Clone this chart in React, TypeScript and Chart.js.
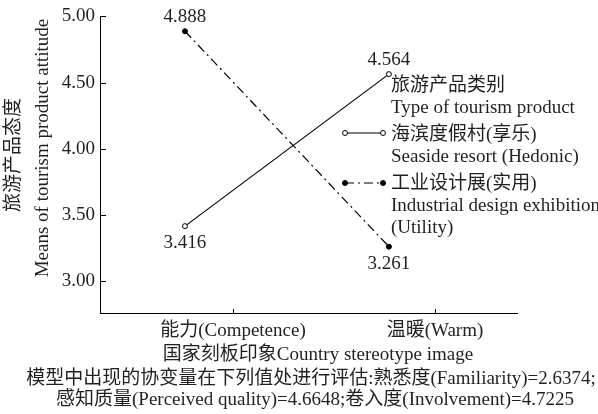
import { useEffect, useRef } from 'react';
import { Chart, registerables } from 'chart.js';

Chart.register(...registerables);

const categories = ['能力(Competence)', '温暖(Warm)'];
const hedonicValues = [3.416, 4.564];
const utilityValues = [4.888, 3.261];
const yTickValues = [3.0, 3.5, 4.0, 4.5, 5.0];
const hedonicName = ['海滨度假村(享乐)', 'Seaside resort (Hedonic)'];
const utilityName = ['工业设计展(实用)', 'Industrial design exhibition', '(Utility)'];
const legendTitle = ['旅游产品类别', 'Type of tourism product'];
const yTitle = ['旅游产品态度', 'Means of tourism product attitude'];
const xTitle = '国家刻板印象Country stereotype image';
const noteLines = [
  '模型中出现的协变量在下列值处进行评估:熟悉度(Familiarity)=2.6374;',
  '感知质量(Perceived quality)=4.6648;卷入度(Involvement)=4.7225',
];

const FAMILY = "'Liberation Serif', 'Times New Roman', 'Noto Sans CJK SC', serif";
const FS = 19;
const TEXT = '#231f20';
const DASH = [9, 4, 2, 4];

const extrasPlugin = {
  id: 'extras',
  afterDatasetsDraw(chart: any) {
    const ctx = chart.ctx;
    const area = chart.chartArea;
    const ys = chart.scales.y;
    const xs = chart.scales.x;
    ctx.save();
    ctx.strokeStyle = '#000';
    ctx.lineWidth = 1;
    // inward ticks
    ys.ticks.forEach((t: any) => {
      const py = Math.round(ys.getPixelForValue(t.value)) + 0.5;
      ctx.beginPath();
      ctx.moveTo(area.left, py);
      ctx.lineTo(area.left + 6, py);
      ctx.stroke();
    });
    xs.ticks.forEach((t: any) => {
      const px = Math.round(xs.getPixelForValue(t.value)) + 0.5;
      ctx.beginPath();
      ctx.moveTo(px, area.bottom);
      ctx.lineTo(px, area.bottom - 4);
      ctx.stroke();
    });

    // value labels
    ctx.font = `${FS}px ${FAMILY}`;
    ctx.fillStyle = TEXT;
    ctx.textAlign = 'center';
    ctx.textBaseline = 'middle';
    const all = [hedonicValues, utilityValues];
    chart.data.datasets.forEach((ds: any, di: number) => {
      const meta = chart.getDatasetMeta(di);
      meta.data.forEach((pt: any, i: number) => {
        const v = all[di][i];
        const other = all[1 - di][i];
        const above = v > other;
        ctx.fillText(v.toFixed(3), pt.x, above ? pt.y - 14 : pt.y + 17);
      });
    });

    // legend
    const lx = 391;
    ctx.textAlign = 'left';
    ctx.fillText(legendTitle[0], lx, 86);
    ctx.fillText(legendTitle[1], lx, 108);
    hedonicName.forEach((s, i) => ctx.fillText(s, lx, 135 + i * 22));
    utilityName.forEach((s, i) => ctx.fillText(s, lx, 184 + i * 22));
    const drawSample = (y: number, dashed: boolean, filled: boolean) => {
      ctx.save();
      ctx.strokeStyle = '#000';
      ctx.lineWidth = 1.2;
      ctx.setLineDash(dashed ? DASH : []);
      ctx.beginPath();
      ctx.moveTo(345, y);
      ctx.lineTo(383, y);
      ctx.stroke();
      ctx.setLineDash([]);
      [345, 383].forEach((cx) => {
        ctx.beginPath();
        ctx.arc(cx, y, 2.5, 0, Math.PI * 2);
        ctx.fillStyle = filled ? '#000' : '#fff';
        ctx.fill();
        ctx.lineWidth = 1;
        ctx.stroke();
      });
      ctx.restore();
    };
    drawSample(133, false, false);
    drawSample(183, true, true);

    // y title
    ctx.fillStyle = TEXT;
    ctx.textAlign = 'center';
    ctx.save();
    ctx.translate(14, 155);
    ctx.rotate(-Math.PI / 2);
    ctx.fillText(yTitle[0], 0, 0);
    ctx.restore();
    ctx.save();
    ctx.translate(43, 148);
    ctx.rotate(-Math.PI / 2);
    ctx.fillText(yTitle[1], 0, 0);
    ctx.restore();

    // bottom titles
    ctx.fillText(xTitle, 318, 355);
    ctx.fillText(noteLines[0], 311, 379);
    ctx.fillText(noteLines[1], 315, 400);
    ctx.restore();
  },
};

export default function App() {
  const ref = useRef<HTMLCanvasElement>(null);
  useEffect(() => {
    document.body.style.margin = '0';
    const toPts = (vals: number[]) => vals.map((v, i) => ({ x: i, y: v }));
    const chart = new Chart(ref.current!, {
      type: 'line',
      data: {
        datasets: [
          {
            label: hedonicName.join(' '),
            data: toPts(hedonicValues),
            xAxisID: 'xd',
            yAxisID: 'y',
            borderColor: '#000',
            borderWidth: 1.2,
            pointRadius: 2.5,
            pointBorderWidth: 1,
            pointBackgroundColor: '#fff',
            pointBorderColor: '#000',
            clip: false as any,
          },
          {
            label: utilityName.join(' '),
            data: toPts(utilityValues),
            xAxisID: 'xd',
            yAxisID: 'y',
            borderColor: '#000',
            borderWidth: 1.2,
            borderDash: DASH,
            pointRadius: 2.5,
            pointBorderWidth: 1,
            pointBackgroundColor: '#000',
            pointBorderColor: '#000',
            clip: false as any,
          },
        ],
      },
      options: {
        animation: false,
        responsive: false,
        layout: { padding: { left: 0, right: 81, top: 14, bottom: 0 } },
        plugins: { legend: { display: false }, tooltip: { enabled: false } },
        scales: {
          x: {
            type: 'linear',
            position: 'bottom',
            min: -0.658,
            max: 1.406,
            afterBuildTicks: (s: any) => {
              s.ticks = categories.map((_, i) => ({ value: i }));
            },
            afterFit: (s: any) => {
              s.height = 101;
            },
            ticks: {
              callback: (v: any) => categories[Number(v)] ?? '',
              font: { family: FAMILY, size: FS },
              color: TEXT,
              padding: 7,
              maxRotation: 0,
              autoSkip: false,
            },
            grid: { drawOnChartArea: false, drawTicks: false },
            border: { display: true, color: '#000', width: 1 },
          },
          xd: {
            type: 'linear',
            display: false,
            min: -0.4166,
            max: 1.628,
          },
          y: {
            type: 'linear',
            position: 'left',
            min: 2.76,
            max: 5.0,
            afterBuildTicks: (s: any) => {
              s.ticks = yTickValues.map((v) => ({ value: v }));
            },
            afterFit: (s: any) => {
              s.width = 100;
            },
            ticks: {
              callback: (v: any) => Number(v).toFixed(2),
              font: { family: FAMILY, size: FS },
              color: TEXT,
              padding: 5,
            },
            grid: { drawOnChartArea: false, drawTicks: false },
            border: { display: true, color: '#000', width: 1 },
          },
        },
      },
      plugins: [extrasPlugin],
    });
    return () => chart.destroy();
  }, []);
  return (
    <div style={{ width: 598, height: 414 }}>
      <canvas ref={ref} width={598} height={414} />
    </div>
  );
}
